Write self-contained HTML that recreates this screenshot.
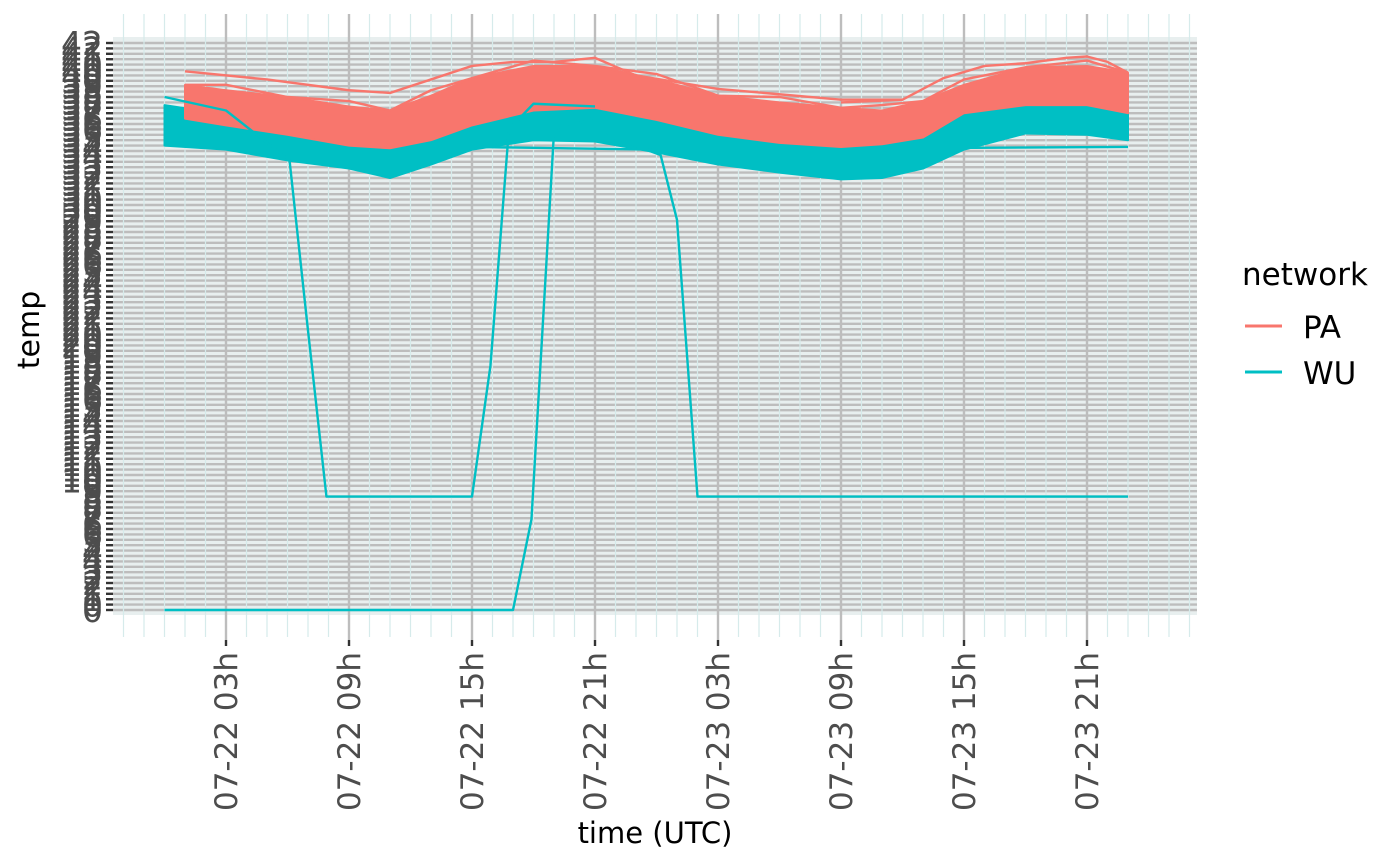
<!DOCTYPE html>
<html><head><meta charset="utf-8"><style>
html,body{margin:0;padding:0;background:#fff;}
svg{display:block;font-family:"DejaVu Sans","Liberation Sans",sans-serif;}
</style></head><body>
<svg id="chart" width="1400" height="865" viewBox="0 0 1400 865" xmlns="http://www.w3.org/2000/svg">
<g id="grid"></g>
<g id="series"></g>
<g id="axes"></g>
<text x="655" y="843" font-size="29" fill="#000" text-anchor="middle">time (UTC)</text>
<text transform="translate(39,330) rotate(-90)" font-size="30" fill="#000" text-anchor="middle">temp</text>
<g>
<text x="1242" y="285" font-size="31" fill="#000">network</text>
<line x1="1245" y1="326" x2="1282" y2="326" stroke="#F8766D" stroke-width="3"/>
<text x="1303" y="338" font-size="31" fill="#000">PA</text>
<line x1="1245" y1="372" x2="1282" y2="372" stroke="#00BFC4" stroke-width="3"/>
<text x="1303" y="384" font-size="31" fill="#000">WU</text>
</g>
</svg>
<script>
// ---- data (hours since 07-22 00h UTC, temperature) ----
const paHours = [1,3,6,9,11,13,15,18,21,24,27,30,33,35,37,39,42,45,47];
const paUpper = [38.9,38.5,38.0,37.3,37.0,38.1,39.4,40.3,40.3,39.3,38.1,37.6,37.2,37.0,37.7,38.9,40.2,40.3,39.8];
const paLower = [36.4,35.9,35.2,34.4,34.2,34.8,35.9,37.0,37.2,36.3,35.2,34.6,34.3,34.5,35.0,36.8,37.4,37.4,36.8];
const wuHours = [0,3,6,9,11,13,15,18,21,24,27,30,33,35,37,39,42,45,47];
const wuUpper = [37.4,36.7,35.9,35.4,35.0,35.6,36.6,37.2,37.4,36.7,35.7,35.2,34.8,34.8,35.6,36.8,37.4,37.4,37.0];
const wuLower = [34.4,34.1,33.3,32.7,32.0,33.0,34.1,34.8,34.7,33.9,33.0,32.4,31.9,32.0,32.7,34.1,35.3,35.2,34.8];
const paOutlierHours = [1,5,9,11,13,15,17,19,21,23,27,33,36];
const paOutlierTemp = [39.9,39.3,38.5,38.3,39.3,40.3,40.6,40.6,40.9,39.6,38.6,37.8,37.8];
const paOutlier2Hours = [33,36,38,40,42,44,45,46,47];
const paOutlier2Temp = [37.6,37.8,39.4,40.3,40.5,40.9,41.0,40.6,39.8];
const wuDrop1Hours = [0,3,6.1,7,7.9,15,15.9,16.8,18,21];
const wuDrop1Temp = [38.0,37.0,33.3,20.7,8.4,8.4,18.1,35.6,37.5,37.3];
const wuDrop2Hours = [0,17,17.9,19,21];
const wuDrop2Temp = [0,0,6.7,35.4,36.5];
const wuDrop3Hours = [21,24.2,25,26,47];
const wuDrop3Temp = [35.5,33.7,28.9,8.4,8.4];
const wuFlatHours = [15,24,47];
const wuFlatTemp = [34.3,34.1,34.3];
const xTickHours = [3,9,15,21,27,33,39,45];
const xTickLabels = ["07-22 03h","07-22 09h","07-22 15h","07-22 21h","07-23 03h","07-23 09h","07-23 15h","07-23 21h"];
const yTicks = []; for (let i = 0; i <= 105; i++) yTicks.push(+(i * 0.4).toFixed(1));

const NS = "http://www.w3.org/2000/svg";
const X0 = 164.5, XS = 20.5;
const x = h => X0 + h * XS;
const Y0 = 610, YS = 13.5;
const y = t => Y0 - t * YS;
function mk(tag, attrs, parent){ const e=document.createElementNS(NS,tag); for(const k in attrs) e.setAttribute(k,attrs[k]); parent.appendChild(e); return e; }
const grid = document.getElementById('grid'), series = document.getElementById('series'), axes = document.getElementById('axes');
const L = 113, R = 1197;

const bg = mk('rect',{x:L,y:37,width:R-L,height:578,fill:'#e8efef'},grid);


yTicks.forEach(t=>{
  const g = mk('line',{x1:L,x2:R,y1:y(t),y2:y(t),stroke:'#bdbdbd','stroke-width':2.4},grid);
  
  
  const tk = mk('line',{x1:106,x2:113,y1:y(t),y2:y(t),stroke:'#333','stroke-width':2.4},axes);
  
  
  const lb = mk('text',{x:103,y:y(t)+12,'font-size':33,fill:'#4d4d4d','text-anchor':'end'},axes);
  
  
  lb.textContent = Math.round(t);
});
for(let h=-2; h<=50; h+=1){
  const v = mk('line',{x1:x(h),x2:x(h),y1:14,y2:637,stroke:'#d6ebeb','stroke-width':1.2},grid);
  
  
}
xTickHours.forEach((h,i)=>{
  const v = mk('line',{x1:x(h),x2:x(h),y1:14,y2:640,stroke:'#bdbdbd','stroke-width':2.4},grid);
  
  
  const tk = mk('line',{x1:x(h),x2:x(h),y1:640,y2:646,stroke:'#333','stroke-width':2.4},axes);
  
  
  const lb = mk('text',{transform:`translate(${x(h)+11},652) rotate(-90)`,'font-size':31,fill:'#4d4d4d','text-anchor':'end'},axes);
  
  
  lb.textContent = xTickLabels[i];
});

function band(hours, up, lo, color, name){
  let d = hours.map((h,i)=>(i?'L':'M')+x(h)+','+y(up[i])).join(' ');
  for(let i=hours.length-1;i>=0;i--) d += ' L'+x(hours[i])+','+y(lo[i]);
  const p = mk('path',{d:d+' Z',fill:color,stroke:color,'stroke-width':2,'stroke-linejoin':'round'},series);
  
  
}
function line(hours, temps, color, name, w){
  const d = hours.map((h,i)=>(i?'L':'M')+x(h)+','+y(temps[i])).join(' ');
  const p = mk('path',{d,fill:'none',stroke:color,'stroke-width':w||2.4,'stroke-linejoin':'round'},series);
  
  
}
band(wuHours, wuUpper, wuLower, '#00BFC4', 'wu-series-band');
line(wuFlatHours, wuFlatTemp, '#00BFC4', 'wu-flat-line');
band(paHours, paUpper, paLower, '#F8766D', 'pa-series-band');
line(paOutlierHours, paOutlierTemp, '#F8766D', 'pa-outlier-line');
line(paOutlier2Hours, paOutlier2Temp, '#F8766D', 'pa-outlier-line-2');
line(paHours, paUpper.map((v,i)=>v+0.4*(i%2)), '#F8766D', 'pa-upper-line');
line(wuDrop1Hours, wuDrop1Temp, '#00BFC4', 'wu-drop-line-1');
line(wuDrop2Hours, wuDrop2Temp, '#00BFC4', 'wu-drop-line-2');
line(wuDrop3Hours, wuDrop3Temp, '#00BFC4', 'wu-drop-line-3');
</script>
</body></html>
